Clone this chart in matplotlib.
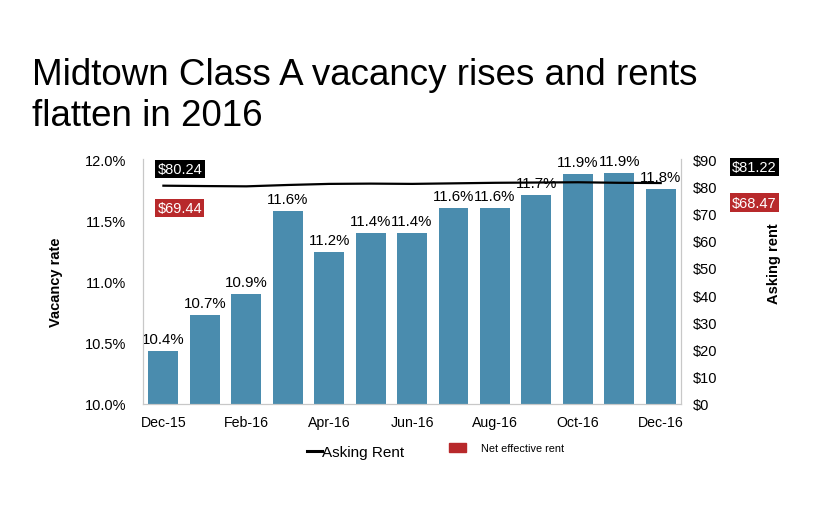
import matplotlib.pyplot as plt
from matplotlib.lines import Line2D
from matplotlib.patches import Patch
import numpy as np

plt.rcParams['font.family'] = ['Liberation Sans', 'DejaVu Sans']

months = ['Dec-15', 'Jan-16', 'Feb-16', 'Mar-16', 'Apr-16', 'May-16', 'Jun-16',
          'Jul-16', 'Aug-16', 'Sep-16', 'Oct-16', 'Nov-16', 'Dec-16']
vacancy = [10.43, 10.73, 10.90, 11.58, 11.24, 11.40, 11.40,
           11.60, 11.60, 11.71, 11.88, 11.89, 11.76]
vacancy_labels = ['10.4%', '10.7%', '10.9%', '11.6%', '11.2%', '11.4%', '11.4%',
                  '11.6%', '11.6%', '11.7%', '11.9%', '11.9%', '11.8%']
asking_rent = [80.24, 80.1, 80.0, 80.5, 80.9, 81.0, 80.9,
               81.1, 81.3, 81.4, 81.5, 81.3, 81.22]
net_effective = [69.44, 68.47]  # start / end values shown as boxes

bar_color = '#4a8cae'
red = '#b8292b'
spine_gray = '#c8c8c8'

fig = plt.figure(figsize=(8.2, 5.1), dpi=100)
ax = fig.add_axes([0.174, 0.206, 0.657, 0.48])
x = np.arange(len(months))

ax.bar(x, vacancy, width=0.72, color=bar_color, zorder=2)
for xi, v, lab in zip(x, vacancy, vacancy_labels):
    ax.text(xi, v + 0.04, lab, ha='center', va='bottom', fontsize=10.8)

ax.set_ylim(10.0, 12.0)
ax.set_xlim(-0.5, 12.5)
ax.set_yticks([10.0, 10.5, 11.0, 11.5, 12.0])
ax.set_yticklabels(['10.0%', '10.5%', '11.0%', '11.5%', '12.0%'])
ax.set_xticks(x[::2])
ax.set_xticklabels(months[::2])
ax.tick_params(axis='x', length=0, labelsize=10.2, pad=8)
ax.tick_params(axis='y', length=0, labelsize=10.5, pad=12)
ax.set_ylabel('Vacancy rate', fontsize=10.5, fontweight='bold')
ax.yaxis.set_label_coords(-0.147, 0.5)
ax.spines['top'].set_visible(False)
for s in ['left', 'right', 'bottom']:
    ax.spines[s].set_color(spine_gray)

ax2 = ax.twinx()
ax2.plot(x, asking_rent, color='black', lw=1.6, zorder=3)
ax2.set_ylim(0, 90)
ax2.set_yticks(range(0, 91, 10))
ax2.set_yticklabels(['$%d' % v for v in range(0, 91, 10)])
ax2.tick_params(length=0, labelsize=10.5, pad=8)
ax2.set_ylabel('Asking rent', fontsize=10.5, fontweight='bold')
ax2.yaxis.set_label_coords(1.158, 0.576)
ax2.spines['top'].set_visible(False)
for s in ['left', 'right', 'bottom']:
    ax2.spines[s].set_color(spine_gray)

# value boxes
box = dict(boxstyle='square,pad=0.15', ec='none')
ax2.text(0.4, 86.4, '$%.2f' % asking_rent[0], ha='center', va='center', color='white',
         fontsize=10.5, bbox=dict(box, fc='black'))
ax2.text(0.4, 72.0, '$%.2f' % net_effective[0], ha='center', va='center', color='white',
         fontsize=10.5, bbox=dict(box, fc=red))
ax2.text(1.135, 87.0, '$%.2f' % asking_rent[-1], transform=ax2.get_yaxis_transform(),
         ha='center', va='center', color='white', fontsize=10.5, bbox=dict(box, fc='black'))
ax2.text(1.135, 74.0, '$%.2f' % net_effective[1], transform=ax2.get_yaxis_transform(),
         ha='center', va='center', color='white', fontsize=10.5, bbox=dict(box, fc=red))

leg1 = fig.legend([Line2D([], [], color='black', lw=2.2)], ['Asking Rent'], loc='center',
                  bbox_to_anchor=(0.434, 0.112), frameon=False, fontsize=11,
                  handlelength=1.0, handletextpad=0.0)
leg2 = fig.legend([Patch(color=red)], ['Net effective rent'], loc='center',
                  bbox_to_anchor=(0.618, 0.12), frameon=False, fontsize=7.8,
                  handlelength=1.5, handleheight=1.0, handletextpad=1.4)

fig.text(0.039, 1 - 85 / 510, 'Midtown Class A vacancy rises and rents',
         fontsize=26.5, ha='left', va='baseline')
fig.text(0.039, 1 - 126 / 510, 'flatten in 2016',
         fontsize=26.5, ha='left', va='baseline')

fig.savefig('out.png', dpi=100)
